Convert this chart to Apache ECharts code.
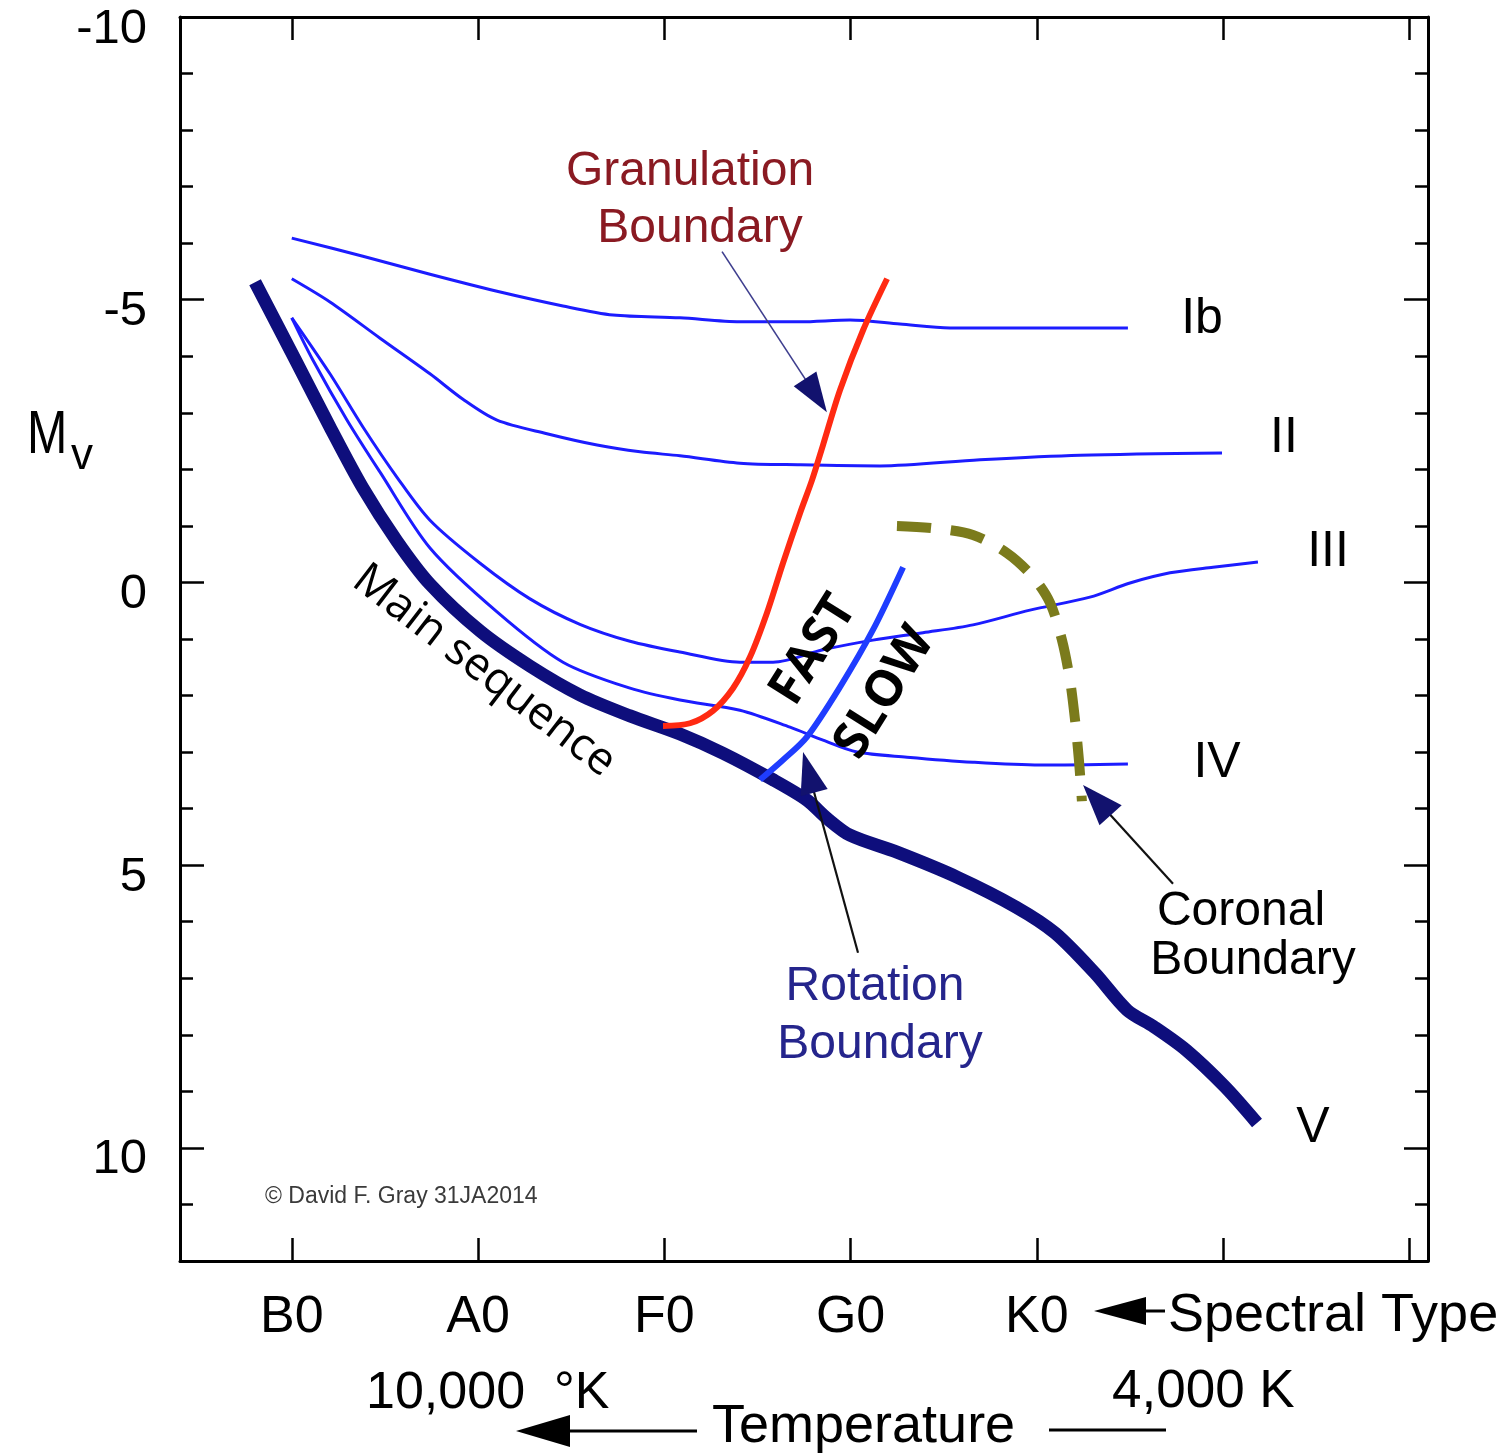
<!DOCTYPE html>
<html>
<head>
<meta charset="utf-8">
<script src="https://cdn.jsdelivr.net/npm/echarts@6/dist/echarts.min.js"></script>
<style>
  html, body { margin: 0; padding: 0; background: #ffffff; }
  #chart { width: 1504px; height: 1456px; }
</style>
</head>
<body>
<div id="chart"></div>
<script>
// Spectral type runs along x in subclasses: B0 = 0, A0 = 10, F0 = 20, G0 = 30, K0 = 40
const spectralTicks = [0, 10, 20, 30, 40, 50, 60];
const spectralLabelTicks = [0, 10, 20, 30, 40];
const spectralNames = ['B0', 'A0', 'F0', 'G0', 'K0'];

// Absolute visual magnitude M_V (bright at top)
const magMajorTicks = [-10, -5, 0, 5, 10];
const magMinorTicks = [-9, -8, -7, -6, -4, -3, -2, -1, 1, 2, 3, 4, 6, 7, 8, 9, 11];

// Luminosity classes: [spectral subclass, M_V]
const classV = [[-1.97, -5.31], [0.28, -3.88], [2.05, -2.75], [3.82, -1.67], [5.65, -0.73],
  [7.42, 0.03], [10.11, 0.86], [12.79, 1.48], [15.47, 1.99], [18.16, 2.36], [20.84, 2.68],
  [23.15, 3.02], [25.84, 3.49], [27.66, 3.85], [28.73, 4.17], [29.97, 4.47], [32.49, 4.77],
  [35.71, 5.21], [38.88, 5.74], [40.98, 6.20], [43.12, 6.91], [44.84, 7.56], [46.29, 7.86],
  [48.01, 8.27], [50.10, 8.92], [51.82, 9.56]];

const classIb = [[0, -6.09], [3.82, -5.77], [7.42, -5.45], [11.02, -5.15], [14.56, -4.89],
  [17.25, -4.73], [20.84, -4.68], [24.06, -4.61], [27.29, -4.61], [29.97, -4.64],
  [32.65, -4.57], [35.34, -4.5], [38.72, -4.5], [44.89, -4.5]];

const classII = [[0, -5.37], [2.05, -4.96], [4.74, -4.32], [7.42, -3.69], [9.19, -3.24],
  [11.02, -2.87], [13.70, -2.63], [16.39, -2.43], [18.70, -2.31], [20.84, -2.24],
  [24.06, -2.11], [27.29, -2.08], [31.58, -2.06], [36.95, -2.17], [42.32, -2.25], [49.94, -2.29]];

const classIII = [[0, -4.68], [2.05, -3.69], [3.82, -2.75], [5.65, -1.86], [7.42, -1.10],
  [10.11, -0.34], [12.79, 0.29], [15.47, 0.74], [18.16, 1.04], [20.84, 1.23], [24.06, 1.41],
  [25.84, 1.41], [28.52, 1.19], [31.20, 1.02], [33.89, 0.89], [36.57, 0.75], [39.63, 0.49],
  [42.85, 0.26], [45.0, 0.01], [47.15, -0.17], [49.46, -0.27], [51.87, -0.36]];

const classIV = [[0, -4.68], [1.14, -3.93], [2.97, -2.87], [4.74, -1.95], [7.42, -0.61],
  [11.02, 0.52], [14.56, 1.41], [18.16, 1.87], [20.84, 2.08], [24.06, 2.26], [26.75, 2.56],
  [28.52, 2.79], [30.35, 3.0], [33.03, 3.09], [36.57, 3.18], [40.17, 3.23], [44.89, 3.21]];

// Boundaries
const granulationBoundary = [[19.93, 2.54], [21.38, 2.49], [22.61, 2.27], [23.69, 1.87],
  [24.60, 1.32], [25.51, 0.54], [26.37, -0.34], [27.29, -1.23], [27.93, -1.81],
  [28.52, -2.43], [29.43, -3.40], [30.67, -4.46], [31.96, -5.37]];

const rotationBoundary = [[25.14, 3.49], [26.37, 3.14], [27.66, 2.73], [29.43, 1.85],
  [31.20, 0.84], [32.82, -0.27]];

const coronalBoundary = [[32.49, -1.0], [34.43, -0.96], [36.57, -0.84], [38.40, -0.52],
  [39.79, -0.10], [40.71, 0.36], [41.35, 1.02], [41.78, 1.73], [42.05, 2.43],
  [42.26, 3.14], [42.42, 3.87]];

// Pointer arrows: tail -> tip, in data coordinates
const pointers = [
  { tail: [23.10, -5.85], tip: [28.73, -3.01], line: '#3e3e8e', width: 1.6, head: '#12126e', len: 40, wid: 27 },
  { tail: [30.40, 6.55], tip: [27.45, 3.0], line: '#111111', width: 2.2, head: '#12126e', len: 42, wid: 28 },
  { tail: [47.31, 5.33], tip: [42.48, 3.58], line: '#111111', width: 2.2, head: '#12126e', len: 41, wid: 30 }
];

const SANS = '"Liberation Sans", Arial, Helvetica, sans-serif';
const OPEN = '"Open Sans", "Noto Sans", sans-serif';

const chart = echarts.init(document.getElementById('chart'), null, { renderer: 'canvas' });

function lineSeries(name, data, color, width, extra) {
  return Object.assign({
    name: name,
    type: 'line',
    data: data,
    xAxisIndex: 0,
    yAxisIndex: 0,
    symbol: 'none',
    showSymbol: false,
    smooth: 0.3,
    silent: true,
    animation: false,
    lineStyle: { color: color, width: width, cap: 'butt', join: 'round' }
  }, extra || {});
}

const axisLineStyle = { show: true, onZero: false, lineStyle: { color: '#000', width: 3 } };

const option = {
  animation: false,
  backgroundColor: '#ffffff',
  grid: {
    left: 180, top: 17, width: 1248, height: 1244,
    containLabel: false, outerBoundsMode: 'none', show: false
  },
  xAxis: [
    {
      type: 'value', position: 'bottom', min: -6, max: 61,
      axisLine: axisLineStyle,
      splitLine: { show: false },
      axisTick: { show: true, inside: true, length: 23, customValues: spectralTicks,
        lineStyle: { color: '#000', width: 2.5 } },
      axisLabel: {
        show: true, customValues: spectralLabelTicks, margin: 31,
        fontFamily: SANS, fontSize: 52, color: '#000', lineHeight: 52,
        formatter: function (v) { const i = spectralLabelTicks.indexOf(v); return i >= 0 ? spectralNames[i] : ''; }
      }
    },
    {
      type: 'value', position: 'top', min: -6, max: 61,
      axisLine: axisLineStyle,
      splitLine: { show: false },
      axisTick: { show: true, inside: true, length: 23, customValues: spectralTicks,
        lineStyle: { color: '#000', width: 2.5 } },
      axisLabel: { show: false }
    }
  ],
  yAxis: [
    {
      type: 'value', position: 'left', inverse: true, min: -10, max: 12,
      axisLine: axisLineStyle,
      splitLine: { show: false },
      axisTick: { show: true, inside: true, length: 24, customValues: magMajorTicks,
        lineStyle: { color: '#000', width: 2.5 } },
      axisLabel: {
        show: true, customValues: magMajorTicks, margin: 33,
        fontFamily: SANS, fontSize: 49, color: '#000',
        verticalAlign: 'top', lineHeight: 24
      }
    },
    {
      type: 'value', position: 'left', inverse: true, min: -10, max: 12,
      axisLine: { show: false, onZero: false },
      splitLine: { show: false },
      axisTick: { show: true, inside: true, length: 13, customValues: magMinorTicks,
        lineStyle: { color: '#000', width: 2.5 } },
      axisLabel: { show: false }
    },
    {
      type: 'value', position: 'right', inverse: true, min: -10, max: 12,
      axisLine: axisLineStyle,
      splitLine: { show: false },
      axisTick: { show: true, inside: true, length: 24, customValues: magMajorTicks,
        lineStyle: { color: '#000', width: 2.5 } },
      axisLabel: { show: false }
    },
    {
      type: 'value', position: 'right', inverse: true, min: -10, max: 12,
      axisLine: { show: false, onZero: false },
      splitLine: { show: false },
      axisTick: { show: true, inside: true, length: 13, customValues: magMinorTicks,
        lineStyle: { color: '#000', width: 2.5 } },
      axisLabel: { show: false }
    }
  ],
  series: [
    lineSeries('V', classV, '#0e0e7c', 13, { z: 2 }),
    lineSeries('Ib', classIb, '#1c1cff', 3, { z: 3 }),
    lineSeries('II', classII, '#1c1cff', 3, { z: 3 }),
    lineSeries('III', classIII, '#1c1cff', 3, { z: 3 }),
    lineSeries('IV', classIV, '#1c1cff', 3, { z: 3 }),
    lineSeries('Granulation Boundary', granulationBoundary, '#ff2a12', 6, { z: 4 }),
    lineSeries('Rotation Boundary', rotationBoundary, '#1f3dff', 6, { z: 4 }),
    lineSeries('Coronal Boundary', coronalBoundary, '#7b7b1c', 10, {
      z: 5,
      lineStyle: { color: '#7b7b1c', width: 10, type: [34, 20], cap: 'butt', join: 'round' }
    })
  ]
};

chart.setOption(option);

// ---- annotations (text, pointer arrows, axis captions) ----
function txt(text, x, y, size, opts) {
  opts = opts || {};
  return {
    type: 'text', x: x, y: y, z: 100,
    rotation: opts.rotation || 0,
    scaleX: opts.scaleX || 1,
    silent: true,
    style: {
      text: text,
      font: (opts.weight || 'normal') + ' ' + size + 'px ' + (opts.family || SANS),
      fill: opts.fill || '#000',
      align: opts.align || 'center',
      verticalAlign: 'middle'
    }
  };
}

function arrowGraphics(p) {
  const t = chart.convertToPixel({ xAxisIndex: 0, yAxisIndex: 0 }, p.tip);
  const s = chart.convertToPixel({ xAxisIndex: 0, yAxisIndex: 0 }, p.tail);
  const dx = t[0] - s[0], dy = t[1] - s[1];
  const L = Math.sqrt(dx * dx + dy * dy);
  const ux = dx / L, uy = dy / L;
  const bx = t[0] - ux * p.len, by = t[1] - uy * p.len;
  const nx = -uy, ny = ux;
  return [
    { type: 'line', z: 90, silent: true,
      shape: { x1: s[0], y1: s[1], x2: bx + ux * 4, y2: by + uy * 4 },
      style: { stroke: p.line, lineWidth: p.width } },
    { type: 'polygon', z: 91, silent: true,
      shape: { points: [[t[0], t[1]], [bx + nx * p.wid / 2, by + ny * p.wid / 2], [bx - nx * p.wid / 2, by - ny * p.wid / 2]] },
      style: { fill: p.head } }
  ];
}

const deg = Math.PI / 180;
let graphics = [];
pointers.forEach(function (p) { graphics = graphics.concat(arrowGraphics(p)); });

graphics = graphics.concat([
  // axis title M_V
  txt('M', 27, 436, 62, { align: 'left', scaleX: 0.78 }),
  txt('v', 71, 457, 44, { align: 'left' }),

  // curve labels
  txt('Granulation', 690, 172, 48, { fill: '#8a1a22' }),
  txt('Boundary', 700, 229, 48, { fill: '#8a1a22' }),
  txt('Ib', 1202, 319, 50),
  txt('II', 1284, 438, 50),
  txt('III', 1328, 552, 50),
  txt('IV', 1217, 763, 50),
  txt('V', 1313, 1128, 50),
  txt('Coronal', 1241, 912, 48),
  txt('Boundary', 1253, 961, 48),
  txt('Rotation', 875, 987, 48, { fill: '#25258c' }),
  txt('Boundary', 880, 1045, 48, { fill: '#25258c' }),
  txt('Main sequence', 484, 671, 45, { family: OPEN, rotation: -37.5 * deg }),
  txt('FAST', 814, 650, 50, { family: OPEN, weight: 'bold', rotation: 58 * deg }),
  txt('SLOW', 885, 693, 50, { family: OPEN, weight: 'bold', rotation: 58 * deg }),
  txt('\u00A9 David F. Gray 31JA2014', 265, 1197, 23, { align: 'left', fill: '#3a3a3a' }),

  // spectral type caption with arrow
  txt('Spectral Type', 1168, 1316, 54, { align: 'left' }),
  { type: 'polygon', z: 100, silent: true,
    shape: { points: [[1094, 1311], [1146, 1297], [1146, 1325]] }, style: { fill: '#000' } },
  { type: 'line', z: 100, silent: true,
    shape: { x1: 1144, y1: 1311, x2: 1165, y2: 1311 }, style: { stroke: '#000', lineWidth: 3 } },

  // temperature caption
  txt('10,000  \u00B0K', 366, 1394, 52, { align: 'left' }),
  txt('4,000 K', 1112, 1392, 53, { align: 'left' }),
  txt('Temperature', 712, 1427, 54, { align: 'left' }),
  { type: 'polygon', z: 100, silent: true,
    shape: { points: [[516, 1431], [570, 1415], [570, 1447]] }, style: { fill: '#000' } },
  { type: 'line', z: 100, silent: true,
    shape: { x1: 568, y1: 1431, x2: 697, y2: 1431 }, style: { stroke: '#000', lineWidth: 3 } },
  { type: 'line', z: 100, silent: true,
    shape: { x1: 1049, y1: 1430, x2: 1166, y2: 1430 }, style: { stroke: '#000', lineWidth: 3 } }
]);

chart.setOption({ graphic: graphics });
</script>
</body>
</html>
